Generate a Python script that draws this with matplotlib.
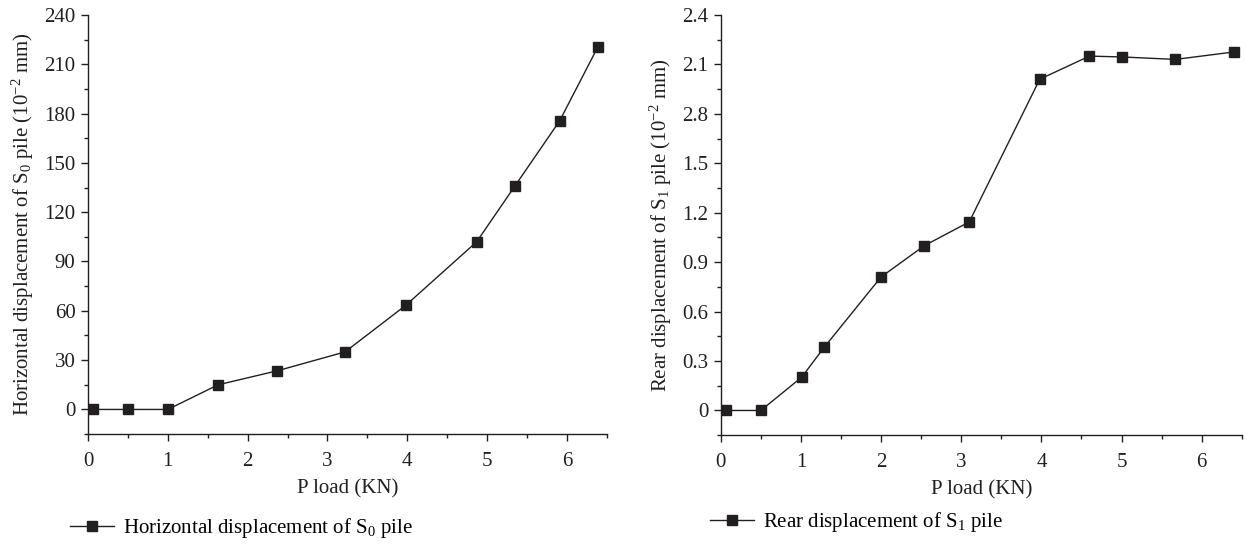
import matplotlib
matplotlib.use('Agg')
import matplotlib.pyplot as plt
from matplotlib.ticker import MultipleLocator, FixedLocator, FixedFormatter

plt.rcParams['font.family'] = ['Liberation Serif', 'DejaVu Serif']
plt.rcParams['mathtext.fontset'] = 'custom'
plt.rcParams['mathtext.rm'] = 'Liberation Serif'
plt.rcParams['mathtext.it'] = 'Liberation Serif:italic'

# left panel: S0 pile
load_s0 = [0.06, 0.5, 1.0, 1.63, 2.37, 3.22, 3.98, 4.87, 5.35, 5.91, 6.39]
disp_s0 = [0, 0, 0, 15.0, 23.5, 35.0, 63.3, 102.0, 136.0, 175.6, 220.7]

# right panel: S1 pile
load_s1 = [0.06, 0.5, 1.01, 1.29, 2.0, 2.54, 3.10, 3.98, 4.6, 5.0, 5.67, 6.4]
disp_s1 = [0, 0, 0.202, 0.383, 0.81, 1.0, 1.144, 2.01, 2.15, 2.145, 2.13, 2.175]
ticks_s1 = [0, 0.3, 0.6, 0.9, 1.2, 1.5, 1.8, 2.1, 2.4]
tick_labels_s1 = ['0', '0.3', '0.6', '0.9', '1.2', '1.5', '2.8', '2.1', '2.4']

ink = '#231f20'
fs = 15

fig = plt.figure(figsize=(12.47, 5.44), dpi=100)
ax1 = fig.add_axes([0.0706, 0.202, 0.416, 0.7706])
ax2 = fig.add_axes([0.578, 0.200, 0.4178, 0.7726])


def style_axis(ax):
    for s in ['top', 'right']:
        ax.spines[s].set_visible(False)
    for s in ['left', 'bottom']:
        ax.spines[s].set_color(ink)
        ax.spines[s].set_linewidth(1.0)
    ax.tick_params(which='both', direction='out', colors=ink, labelsize=fs, width=1.0)
    ax.tick_params(which='major', length=5, pad=4)
    ax.tick_params(axis='x', which='major', pad=8)
    ax.tick_params(which='minor', length=3)
    ax.set_xlim(0, 6.5)
    ax.xaxis.set_major_locator(MultipleLocator(1))
    ax.xaxis.set_minor_locator(MultipleLocator(0.5))
    ax.set_xlabel('P load (KN)', fontsize=fs, color=ink, labelpad=6)


ax1.plot(load_s0, disp_s0, color=ink, lw=1.0, marker='s', ms=7,
         label='Horizontal displacement of S$_0$ pile')
style_axis(ax1)
ax1.set_ylim(-15, 240)
ax1.yaxis.set_major_locator(FixedLocator(range(0, 241, 30)))
ax1.yaxis.set_minor_locator(MultipleLocator(15))
ax1.set_ylabel('Horizontal displacement of S$_0$ pile (10$^{-2}$ mm)', fontsize=fs, color=ink,
               labelpad=6)
ax1.legend(loc='center left', bbox_to_anchor=(-0.035, -0.225), frameon=False, fontsize=fs,
           handlelength=2.1, handletextpad=0.45, borderaxespad=0, borderpad=0)

ax2.plot(load_s1, disp_s1, color=ink, lw=1.0, marker='s', ms=7,
         label='Rear displacement of S$_1$ pile')
style_axis(ax2)
ax2.set_ylim(-0.15, 2.4)
ax2.yaxis.set_major_locator(FixedLocator(ticks_s1))
ax2.yaxis.set_major_formatter(FixedFormatter(tick_labels_s1))
ax2.yaxis.set_minor_locator(MultipleLocator(0.15))
ax2.set_ylabel('Rear displacement of S$_1$ pile (10$^{-2}$ mm)', fontsize=fs, color=ink,
               labelpad=6)
ax2.legend(loc='center left', bbox_to_anchor=(-0.021, -0.207), frameon=False, fontsize=fs,
           handlelength=2.1, handletextpad=0.45, borderaxespad=0, borderpad=0)

fig.savefig('out.png', dpi=100)
